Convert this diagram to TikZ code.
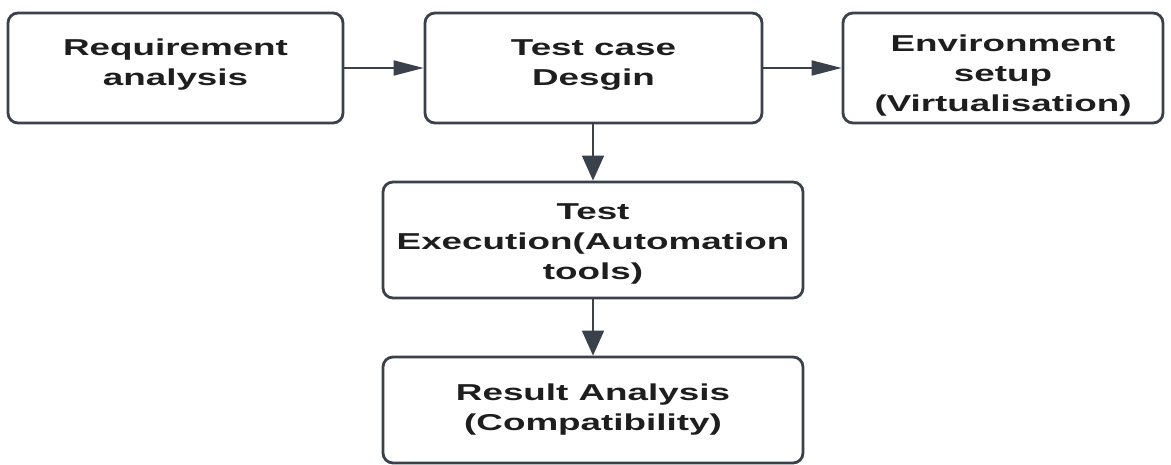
\documentclass[tikz,border=0pt]{standalone}
\usepackage{fontspec}
\newfontfamily\boxfont[FakeStretch=1.6]{Liberation Sans}
\usetikzlibrary{arrows.meta}
\definecolor{edgecol}{HTML}{3A414B}
\definecolor{txtcol}{HTML}{1E1E1E}
\begin{document}
\begin{tikzpicture}[x=1pt,y=1pt,
  box/.style={draw=edgecol,line width=2.8pt,rounded corners=10pt,fill=white,inner sep=0pt},
  lbl/.style={font=\boxfont\bfseries\fontsize{23}{30}\selectfont,text=txtcol,align=center,inner sep=0pt},
  hconn/.style={draw=edgecol,line width=1.8pt,-{Triangle[length=30pt,width=15pt]}},
  vconn/.style={draw=edgecol,line width=1.8pt,-{Triangle[length=25pt,width=22pt]}}]
\useasboundingbox (0,0) rectangle (1171,465);
\node[box,minimum width=335pt,minimum height=110pt] (req) at (175.5,397) {};
\node[box,minimum width=337pt,minimum height=110pt] (des) at (593.5,397) {};
\node[box,minimum width=320pt,minimum height=110pt] (env) at (1003,397) {};
\node[box,minimum width=420pt,minimum height=116pt] (exe) at (593,225) {};
\node[box,minimum width=420pt,minimum height=106pt] (res) at (593,55) {};
\node[lbl] (treq) at (175.5,400.5) {Requirement\\analysis};
\node[lbl] (tdes) at (593.5,400) {Test case\\Desgin};
\node[lbl] (tenv) at (1003,389.5) {Environment\\setup\\(Virtualisation)};
\node[lbl] (texe) at (593,221.5) {Test\\Execution(Automation\\tools)};
\node[lbl] (tres) at (593,55) {Result Analysis\\(Compatibility)};
\draw[hconn] (req.east) -- (des.west);
\draw[hconn] (des.east) -- (env.west);
\draw[vconn] (exe.north |- des.south) -- (exe.north);
\draw[vconn] (exe.south) -- (res.north);
\end{tikzpicture}
\end{document}
